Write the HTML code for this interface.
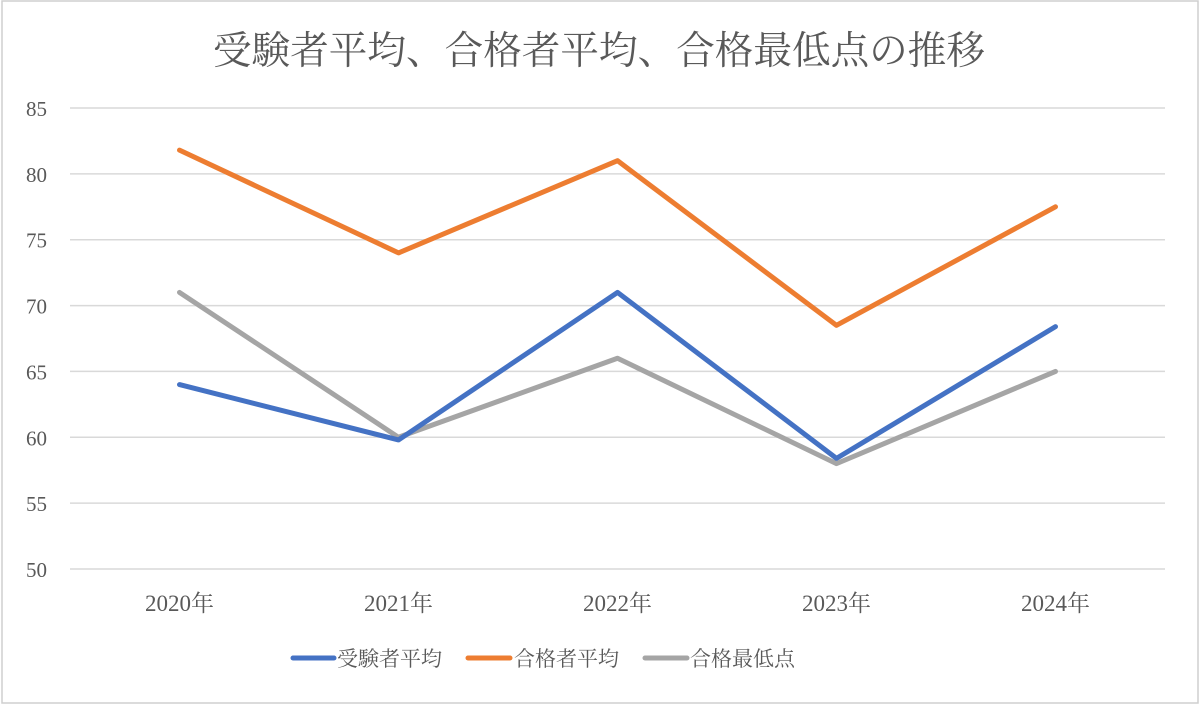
<!DOCTYPE html>
<html><head><meta charset="utf-8"><style>
html,body{margin:0;padding:0;background:#fff;}
svg{display:block;}
text{font-family:"Liberation Serif","Noto Serif CJK JP",serif;fill:#595959;}
</style></head><body>
<svg id="chart" width="1200" height="704" viewBox="0 0 1200 704">
<rect x="2" y="1" width="1196" height="702" fill="#fff" stroke="#cfcfcf" stroke-width="1.5"/>
<text x="599" y="64" text-anchor="middle" font-size="39" textLength="772" lengthAdjust="spacingAndGlyphs">受験者平均、合格者平均、合格最低点の推移</text>
<g id="grid"></g><g id="ylabels"></g><g id="xlabels"></g><g id="series"></g>
<g id="legend">
<g><line x1="293" y1="658" x2="334" y2="658" stroke="#4472c4" stroke-width="5" stroke-linecap="round"/><text x="337" y="666" font-size="21">受験者平均</text></g>
<g><line x1="468" y1="658" x2="510" y2="658" stroke="#ed7d31" stroke-width="5" stroke-linecap="round"/><text x="514" y="666" font-size="21">合格者平均</text></g>
<g><line x1="645" y1="658" x2="687" y2="658" stroke="#a5a5a5" stroke-width="5" stroke-linecap="round"/><text x="690" y="666" font-size="21">合格最低点</text></g>
</g>
</svg>
<script>
const categories=["2020年","2021年","2022年","2023年","2024年"];
const examineeAvg=[64,59.8,71,58.4,68.4];
const passerAvg=[81.8,74,81,68.5,77.5];
const minPass=[71,60,66,58,65];
const yTicks=[50,55,60,65,70,75,80,85];
const NS="http://www.w3.org/2000/svg";
const L=70,R=1165,T=108,B=569,ymin=50,ymax=85;
const x=i=>L+(R-L)/categories.length*(i+0.5);
const y=v=>B-(v-ymin)/(ymax-ymin)*(B-T);
function mk(t,a,p){const e=document.createElementNS(NS,t);for(const k in a)e.setAttribute(k,a[k]);p.appendChild(e);return e;}
const grid=document.getElementById('grid'),yl=document.getElementById('ylabels'),xl=document.getElementById('xlabels'),se=document.getElementById('series');
yTicks.forEach(v=>{
 const g=mk('line',{x1:L,x2:R,y1:y(v),y2:y(v),stroke:'#d9d9d9','stroke-width':1.5},grid);
 
 
 const t=mk('text',{x:47,y:y(v)+8,'text-anchor':'end','font-size':21},yl);t.textContent=v;
 
 
});
categories.forEach((c,i)=>{
 const t=mk('text',{x:x(i),y:611,'text-anchor':'middle','font-size':23},xl);t.textContent=c;
 
 
});
[[minPass,'#a5a5a5','series-minimum-passing-score'],[examineeAvg,'#4472c4','series-examinee-average'],[passerAvg,'#ed7d31','series-passer-average']].forEach(([d,c,n])=>{
 const p=mk('polyline',{points:d.map((v,i)=>x(i)+','+y(v)).join(' '),fill:'none',stroke:c,'stroke-width':5,'stroke-linejoin':'round','stroke-linecap':'round'},se);
 
 
});
</script>
</body></html>
